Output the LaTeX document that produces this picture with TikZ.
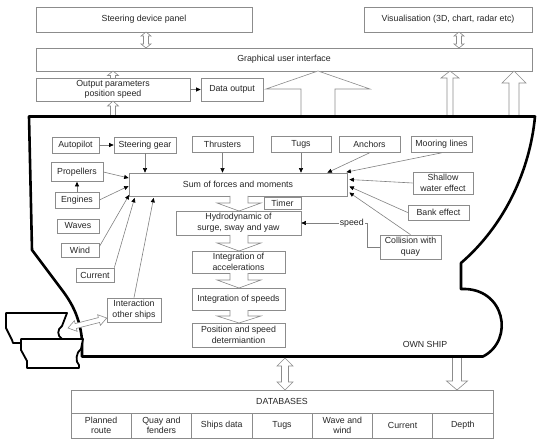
\documentclass[tikz,border=0pt]{standalone}
\usepackage{fontspec}
\setmainfont{Liberation Sans}
\usetikzlibrary{arrows.meta,calc}
\newcommand\HDbl[6]{%
 \begin{scope}[shift={#1},rotate=#2]
 \filldraw[hol] (0,0) -- (#6,#5) -- (#6,#4) -- ({#3-#6},#4) -- ({#3-#6},#5) -- (#3,0) -- ({#3-#6},-#5) -- ({#3-#6},-#4) -- (#6,-#4) -- (#6,-#5) -- cycle;
 \end{scope}}
\newcommand\HSgl[6]{%
 \begin{scope}[shift={#1},rotate=#2]
 \filldraw[hol] (0,#4) -- ({#3-#6},#4) -- ({#3-#6},#5) -- (#3,0) -- ({#3-#6},-#5) -- ({#3-#6},-#4) -- (0,-#4);
 \end{scope}}
\begin{document}
\begin{tikzpicture}[x=1pt,y=-1pt,
  every node/.style={font=\fontsize{8.8}{10.6}\selectfont, text=black!85},
  bx/.style={draw=black!45, fill=white, line width=0.7pt, align=center, inner sep=1pt},
  con/.style={draw=black!50, line width=0.6pt, -{Triangle[length=4.5pt,width=4pt,color=black]}},
  hol/.style={draw=black!45, fill=white, line width=0.6pt, line join=miter},
  hull/.style={draw=black, line width=2.6pt, line join=round},
  boat/.style={draw=black, fill=white, line width=1.8pt, line join=round}]
\useasboundingbox (0,0) rectangle (550,444);
% hull of own ship
\draw[hull] (29,116.5) -- (535,116.5) .. controls (530,170) and (505,225) .. (461,263) -- (461,289)
  .. controls (505,287) and (515,340) .. (483,356.5) -- (82,356.5) -- (82,340)
  .. controls (80,318) and (72,303) .. (62,290) -- (32,250) -- cycle;
% other ships
\filldraw[boat] (6,313) -- (67,313) -- (62,326) .. controls (57,329) and (57,336) .. (62,339) -- (62,343) -- (13,343) -- (12,340) -- (6,328) -- cycle;
\filldraw[boat] (21,339) -- (83,339) -- (81,349) .. controls (76,352) and (75,362) .. (79,365) -- (79,368) -- (27,368) -- (27,361) -- (21,350) -- cycle;
% top boxes
\node[bx, minimum width=216pt, minimum height=25pt] (panel) at (144,19.5) {Steering device panel};
\node[bx, minimum width=168pt, minimum height=25pt] (vis) at (448,19.5) {Visualisation (3D, chart, radar etc)};
\node[bx, minimum width=496pt, minimum height=23pt] (gui) at (284,59.5) {Graphical user interface};
\node[bx, minimum width=154pt, minimum height=23pt] (outp) at (113,89.5) {Output parameters\\position speed};
\node[bx, minimum width=62pt, minimum height=23pt] (dout) at (232,89.5) {Data output};
% inside
\node[bx, minimum width=47pt, minimum height=16pt] (autop) at (75.5,145) {Autopilot};
\node[bx, minimum width=62pt, minimum height=16pt] (steer) at (145,145) {Steering gear};
\node[bx, minimum width=61pt, minimum height=16pt] (thr) at (222.5,144.5) {Thrusters};
\node[bx, minimum width=60pt, minimum height=16pt] (tugs) at (301,144.5) {Tugs};
\node[bx, minimum width=61pt, minimum height=16pt] (anch) at (369.5,144.5) {Anchors};
\node[bx, minimum width=61pt, minimum height=16pt] (moor) at (441.5,144.5) {Mooring lines};
\node[bx, minimum width=52pt, minimum height=19pt] (prop) at (77,172) {Propellers};
\node[bx, minimum width=44pt, minimum height=16pt] (eng) at (77,200) {Engines};
\node[bx, minimum width=42pt, minimum height=14pt] (waves) at (78,226) {Waves};
\node[bx, minimum width=38pt, minimum height=14pt] (wind) at (80,250) {Wind};
\node[bx, minimum width=38pt, minimum height=14pt] (curr) at (95,275) {Current};
\node[bx, minimum width=54pt, minimum height=24pt] (inter) at (134,310) {Interaction\\other ships};
\node[bx, minimum width=218pt, minimum height=23pt] (sum) at (238,184.5) {Sum of forces and moments};
\node[bx, minimum width=37pt, minimum height=12pt] (timer) at (282.5,203) {Timer};
\node[bx, minimum width=125pt, minimum height=24pt] (hydro) at (238.5,223) {Hydrodynamic of\\surge, sway and yaw};
\node[bx, minimum width=93pt, minimum height=22pt] (intacc) at (238.5,262) {Integration of\\accelerations};
\node[bx, minimum width=93pt, minimum height=22pt] (intsp) at (238.5,299) {Integration of speeds};
\node[bx, minimum width=93pt, minimum height=24pt] (pos) at (238.5,335) {Position and speed\\determiantion};
\node[bx, minimum width=60pt, minimum height=22pt] (shal) at (443,183) {Shallow\\water effect};
\node[bx, minimum width=61pt, minimum height=15pt] (bank) at (438.5,212.5) {Bank effect};
\node[bx, minimum width=61pt, minimum height=24pt] (coll) at (410.5,247) {Collision with\\quay};
\node (own) at (425,344) {OWN SHIP};
% databases
\node[bx, minimum width=422pt, minimum height=23pt] (db) at (282,401.5) {DATABASES};
\foreach \t [count=\i] in {Planned\\route, Quay and\\fenders, Ships data, Tugs, Wave and\\wind, Current, Depth}
  \node[bx, minimum width=60.29pt, minimum height=25pt] (db\i) at ({71+60.29*(\i-0.5)},425.5) {\t};
% connectors
\draw[con] (autop) -- (steer);
\draw[con] (steer.south) -- (steer.south |- sum.north);
\draw[con] (thr.south) -- (thr.south |- sum.north);
\draw[con] (tugs.south) -- (tugs.south |- sum.north);
\draw[con] (anch.south) -- ($(sum.north east)+(-20,0)$);
\draw[con] (moor.south) -- ($(sum.north east)+(-1,-0.5)$);
\draw[con] (shal.west) -- ($(sum.east)+(2,-5)$);
\draw[con] (bank.west) -- ($(sum.east)+(2,2)$);
\draw[con] (coll.north) -- ($(sum.east)+(2,8)$);
\draw[con] (coll.west) -- ++(-12,0) |- (hydro.east) node[pos=0.62, fill=white, inner sep=1pt] {speed};
\draw[con] (prop.east) -- ($(sum.west)+(0,-6.5)$);
\draw[con] (eng.east) -- ($(sum.west)+(0,1.5)$);
\draw[con] (eng.north) -- (prop.south);
\draw[con] ($(wind.north east)+(0,4)$) -- ($(sum.south west)+(0.5,-1.5)$);
\draw[con] (curr.north east) -- ($(sum.south west)+(6,1.5)$);
\draw[con] (inter.north) -- ($(sum.south west)+(25,1.5)$);
\draw[con] (outp) -- (dout);
% hollow block arrows
\HDbl{(146,32)}{-90}{16}{2.5}{5}{4}
\HDbl{(459,32)}{-90}{16}{2.5}{5}{4}
\HSgl{(113,78)}{90}{7}{2.5}{5.5}{4.5}
\HSgl{(113,115)}{90}{14}{2.5}{5.5}{5}
\HSgl{(318,115)}{90}{44}{17}{52}{18}
\HSgl{(450,115)}{90}{44}{3}{9}{7}
\HSgl{(514,115)}{90}{44}{5}{12}{12}
\HSgl{(239,196)}{-90}{15}{9}{22}{8}
\HSgl{(239,235)}{-90}{16}{9}{22}{8}
\HSgl{(239,273)}{-90}{15}{9}{22}{8}
\HSgl{(239,310)}{-90}{13}{9}{22}{7}
\HDbl{(285,358)}{-90}{32}{3.5}{8}{8}
\HSgl{(457,358)}{-90}{32}{4.5}{10.5}{9}
\HDbl{(68,328)}{14.4}{40}{2.5}{5.5}{8}
\end{tikzpicture}
\end{document}
